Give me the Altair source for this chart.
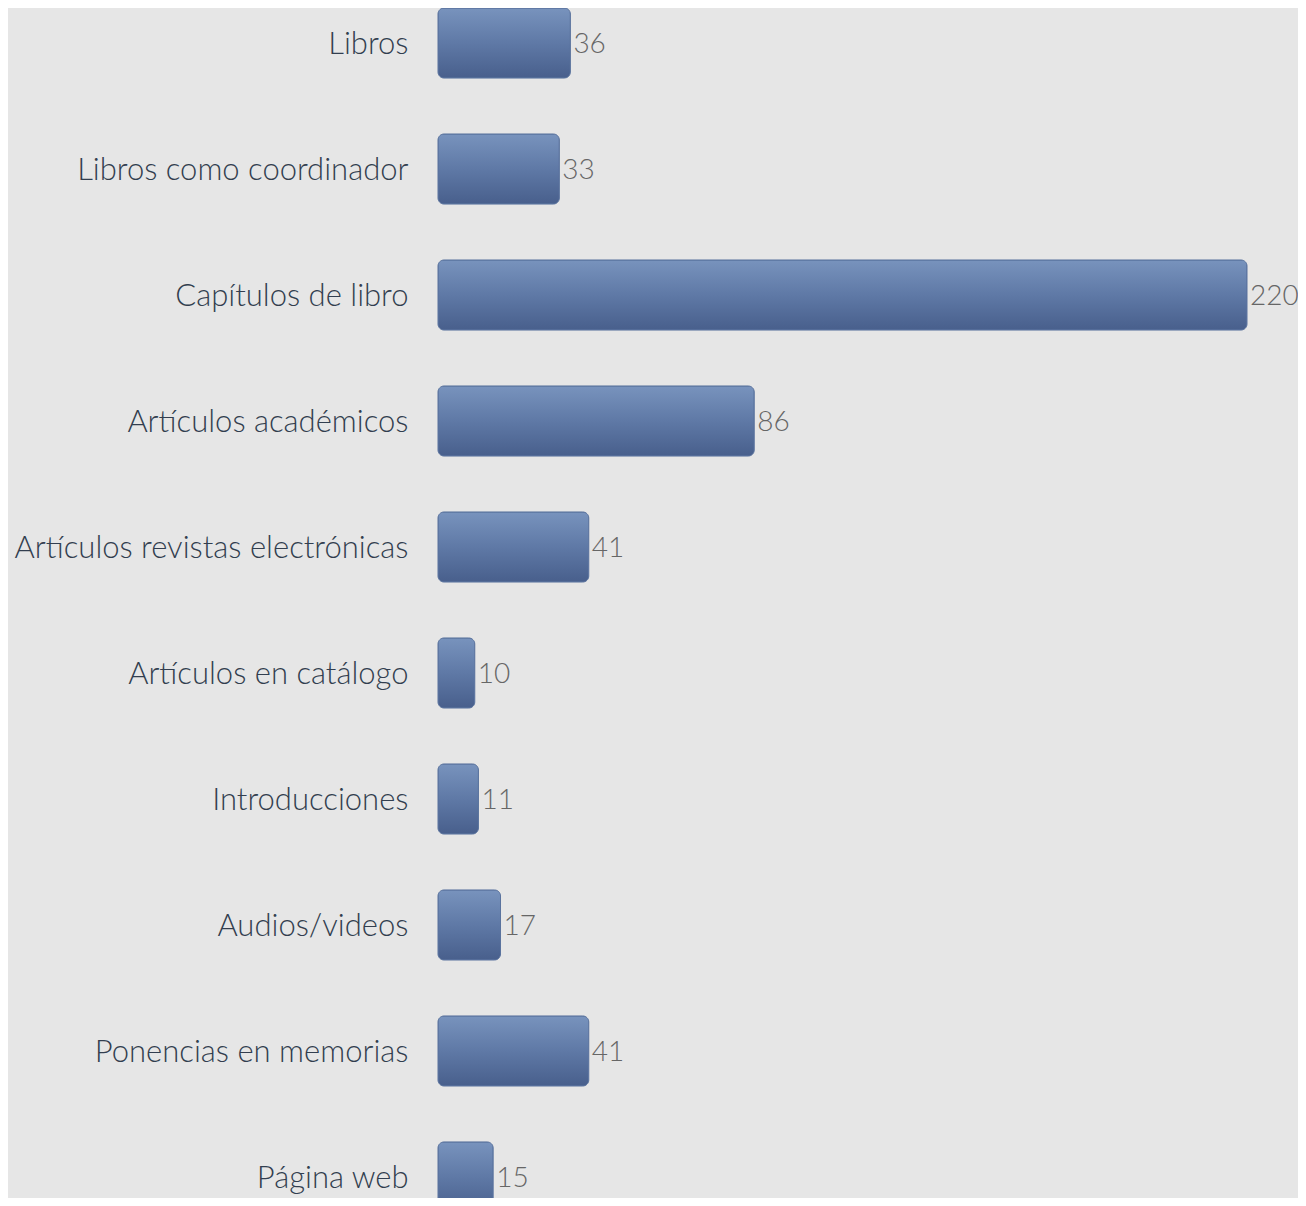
import altair as alt
import pandas as pd

categories = [
    "Libros",
    "Libros como coordinador",
    "Capítulos de libro",
    "Artículos académicos",
    "Artículos revistas electrónicas",
    "Artículos en catálogo",
    "Introducciones",
    "Audios/videos",
    "Ponencias en memorias",
    "Página web",
]
values = [36, 33, 220, 86, 41, 10, 11, 17, 41, 15]

df = pd.DataFrame({"cat": categories, "val": values})

grad = alt.Gradient(
    gradient="linear",
    stops=[
        alt.GradientStop(color="#7893bd", offset=0),
        alt.GradientStop(color="#5f79a6", offset=0.5),
        alt.GradientStop(color="#485f8c", offset=1),
    ],
    x1=0, x2=0, y1=0, y2=1,
)

yenc = alt.Y(
    "cat:N",
    sort=categories,
    scale=alt.Scale(paddingInner=0.444, paddingOuter=0, range=[0, 1204]),
    axis=alt.Axis(
        title=None, ticks=False, domain=False, labelPadding=30,
        labelFontSize=31, labelFont="Lato", labelFontWeight=300, labelColor="#323e4f",
        labelLimit=500, labelOffset=2,
    ),
)
xenc = alt.X("val:Q", scale=alt.Scale(domain=[0, 220], nice=False, zero=True), axis=None)

bars = alt.Chart(df).mark_bar(
    color=grad, cornerRadius=6, stroke="#5a739e", strokeWidth=1, clip=False
).encode(x=xenc, y=yenc)

labels = alt.Chart(df).mark_text(
    align="left", baseline="middle", dx=3, dy=2, fontSize=28, font="Lato", fontWeight=300,
    color="#666666", clip=False
).encode(x=xenc, y=yenc, text="val:Q")

chart = (
    alt.layer(bars, labels)
    .properties(
        width=809, height=1190,
        padding={"left": 430, "top": 0, "right": 51, "bottom": 0},
        autosize=alt.AutoSizeParams(type="none"),
        background="#e6e6e6",
    )
    .configure_view(stroke=None, fill="#e6e6e6")
)

chart.save("out.html", embed_options={"renderer": "svg", "actions": False})
